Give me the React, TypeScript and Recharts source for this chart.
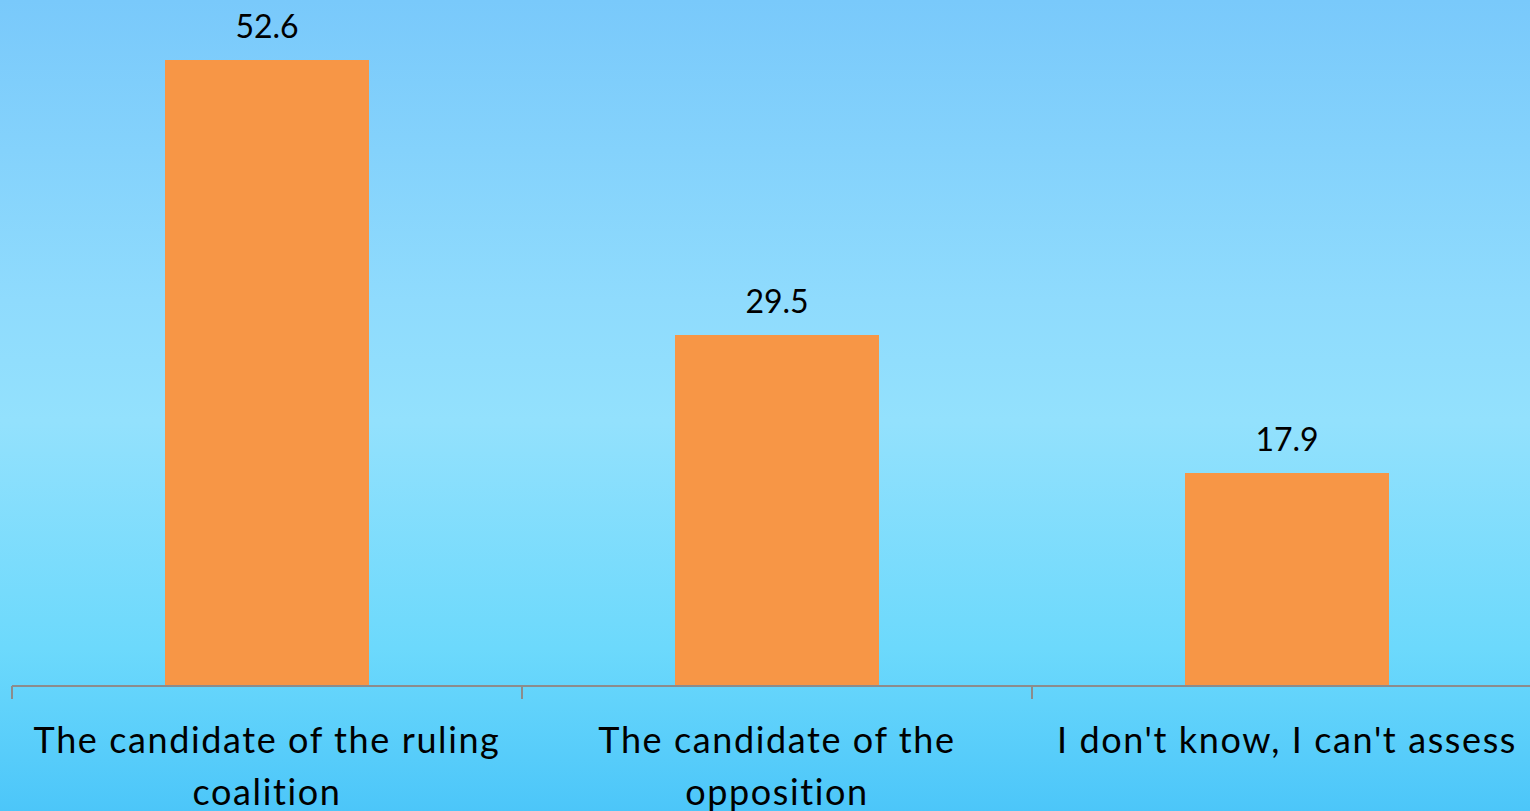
import React from "react";
import { BarChart, Bar, XAxis, YAxis, LabelList } from "recharts";

const categories = [
  "The candidate of the ruling coalition",
  "The candidate of the opposition",
  "I don't know, I can't assess",
];
const values = [52.6, 29.5, 17.9];

const data = categories.map((name, i) => ({ name, value: values[i] }));
const yMax = Math.max(...values);

const FONT = "Lato, 'Liberation Sans', sans-serif";
const TICK_FONT_SIZE = 36;
const LETTER_SPACING = 1.6;
const WRAP_WIDTH = 500;
const BAND = 510;

let measureCtx: CanvasRenderingContext2D | null = null;
function measure(text: string): number {
  if (!measureCtx) {
    const c = document.createElement("canvas");
    measureCtx = c.getContext("2d");
  }
  if (!measureCtx) return text.length * TICK_FONT_SIZE * 0.5;
  measureCtx.font = `${TICK_FONT_SIZE}px ${FONT}`;
  return measureCtx.measureText(text).width + text.length * LETTER_SPACING;
}

function wrap(text: string, maxWidth: number): string[] {
  const words = text.split(" ");
  const lines: string[] = [];
  let cur = "";
  for (const w of words) {
    const test = cur ? cur + " " + w : w;
    if (cur && measure(test) > maxWidth) {
      lines.push(cur);
      cur = w;
    } else {
      cur = test;
    }
  }
  if (cur) lines.push(cur);
  return lines;
}

const CategoryTick = (props: any) => {
  const { x, y, payload } = props;
  const lines = wrap(String(payload.value), WRAP_WIDTH);
  const axisY = y - 13;
  const left = x - BAND / 2;
  return (
    <g>
      <line x1={left} y1={axisY} x2={left} y2={axisY + 13} stroke="#8c8c8c" strokeWidth={2} />
      <text
        x={x}
        y={axisY + 67}
        textAnchor="middle"
        fontSize={TICK_FONT_SIZE}
        fontFamily={FONT}
        letterSpacing={LETTER_SPACING}
        fill="#000000"
      >
        {lines.map((l, i) => (
          <tspan key={i} x={x} dy={i === 0 ? 0 : 52}>
            {l}
          </tspan>
        ))}
      </text>
    </g>
  );
};

export default function App() {
  return (
    <div
      style={{
        position: "absolute",
        left: 0,
        top: 0,
        width: 1530,
        height: 811,
        overflow: "hidden",
        background:
          "linear-gradient(to bottom, #79c9fb 0%, #8fdbfd 37%, #93e1fd 52%, #6cd9fc 80%, #4cc6f9 100%)",
      }}
    >
      <BarChart
        width={1542}
        height={811}
        data={data}
        margin={{ top: 60, right: 0, left: 12, bottom: 0 }}
      >
        <XAxis
          dataKey="name"
          height={125}
          interval={0}
          axisLine={{ stroke: "#8c8c8c", strokeWidth: 2 }}
          tickLine={false}
          tickSize={13}
          tickMargin={0}
          tick={<CategoryTick />}
          padding={{ left: 0, right: 0 }}
        />
        <YAxis hide domain={[0, yMax]} allowDataOverflow />
        <Bar dataKey="value" fill="#f79646" barSize={204} isAnimationActive={false}>
          <LabelList
            dataKey="value"
            position="top"
            offset={22}
            fontSize={32}
            fontFamily={FONT}
            fill="#000000"
          />
        </Bar>
      </BarChart>
    </div>
  );
}
